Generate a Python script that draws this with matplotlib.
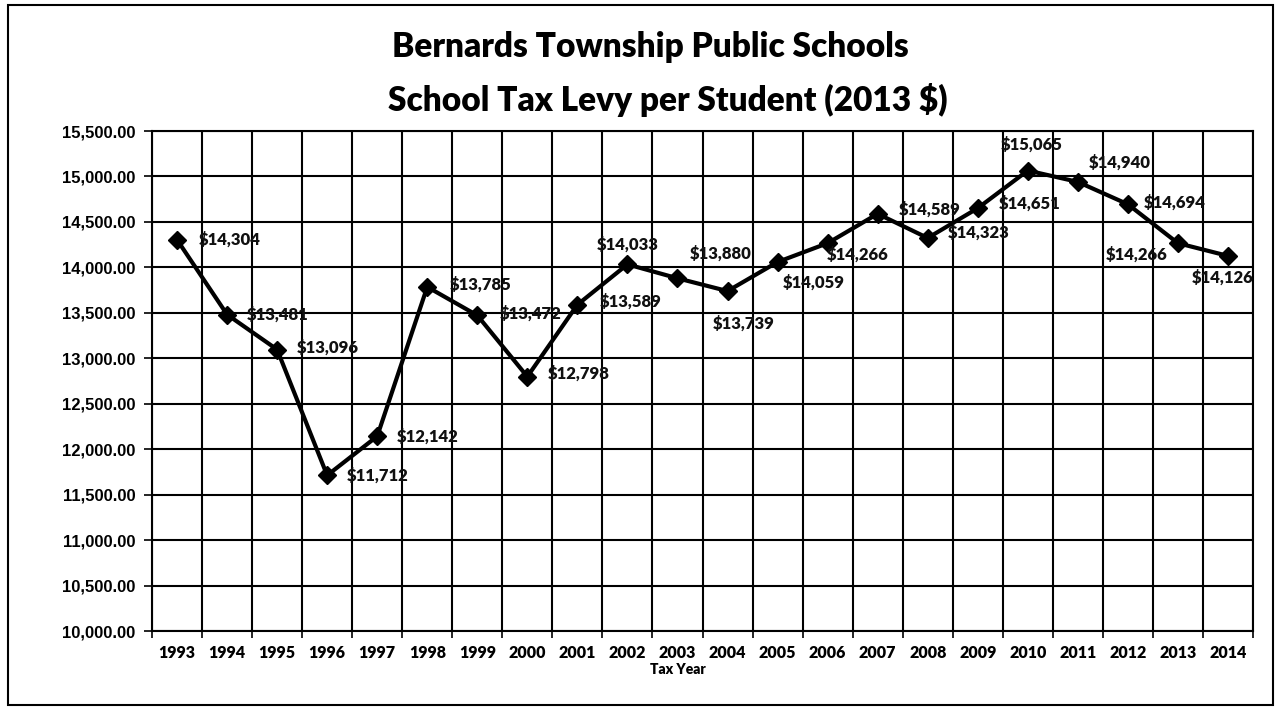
import matplotlib
matplotlib.use("Agg")
import matplotlib.pyplot as plt
from matplotlib.patches import Rectangle

years = ["1993", "1994", "1995", "1996", "1997", "1998", "1999", "2000", "2001", "2002", "2003",
         "2004", "2005", "2006", "2007", "2008", "2009", "2010", "2011", "2012", "2013", "2014"]
levy = [14304, 13481, 13096, 11712, 12142, 13785, 13472, 12798, 13589, 14033, 13880,
        13739, 14059, 14266, 14589, 14323, 14651, 15065, 14940, 14694, 14266, 14126]
y_ticks = [10000, 10500, 11000, 11500, 12000, 12500, 13000, 13500, 14000, 14500, 15000, 15500]
title_1 = "Bernards Township Public Schools"
title_2 = "School Tax Levy per Student (2013 $)"
x_title = "Tax Year"

# label placement (pixels: dx right, dy down, horizontal alignment)
label_pos = [(22, 0, "left"), (20, 0, "left"), (20, -2, "left"), (20, 0, "left"), (20, 0, "left"),
             (22, -2, "left"), (22, -2, "left"), (20, -3, "left"), (22, -3, "left"), (0, -20, "center"),
             (43, -25, "center"), (16, 32, "center"), (36, 21, "center"), (30, 11, "center"),
             (21, -4, "left"), (20, -5, "left"), (21, -5, "left"), (4, -26, "center"),
             (42, -19, "center"), (16, -2, "left"), (-41, 11, "center"), (-5, 22, "center")]

W, H = 1277, 710
fig = plt.figure(figsize=(W / 100, H / 100), dpi=100)
fig.patch.set_facecolor("white")

L, R, T, B = 152, 1253, 131, 631
ax = fig.add_axes([L / W, (H - B) / H, (R - L) / W, (B - T) / H])

xs = list(range(len(years)))
ax.plot(xs, levy, color="black", lw=3, marker="D", markersize=9.5, zorder=5)

ax.set_xlim(-0.5, len(years) - 0.5)
ax.set_ylim(10000, 15500)
ax.set_yticks(y_ticks)
ax.set_yticklabels([f"{v:,.2f}" for v in y_ticks], fontfamily="Liberation Sans",
                   fontweight="bold", fontsize=12)
ax.set_xticks([i - 0.5 for i in range(len(years) + 1)])
ax.set_xticklabels([])
ax.set_xticks(xs, minor=True)
ax.set_xticklabels(years, minor=True, fontfamily="Lato", fontweight="heavy", fontsize=11.5)
ax.tick_params(axis="x", which="minor", length=0, pad=10)
ax.tick_params(axis="x", which="major", length=5, width=1.2, direction="out")
ax.tick_params(axis="y", which="major", length=6, width=1.2, direction="out", pad=6)

ax.grid(True, which="major", color="black", lw=1.5)
ax.set_axisbelow(True)
for s in ax.spines.values():
    s.set_color("black")
    s.set_linewidth(1.5)

for i, (v, (dx, dy, ha)) in enumerate(zip(levy, label_pos)):
    ax.annotate(f"${v:,}", (i, v), xytext=(dx, -dy), textcoords="offset pixels",
                ha=ha, va="center", fontfamily="Lato", fontweight="heavy", fontsize=12,
                color="#111111", zorder=6)

fig.text(650 / W, 1 - 47 / H, title_1, ha="center", va="center", fontfamily="Lato",
         fontweight="heavy", fontsize=24)
fig.text(668 / W, 1 - 100 / H, title_2, ha="center", va="center", fontfamily="Lato",
         fontweight="heavy", fontsize=24)
fig.text(678 / W, 1 - 670 / H, x_title, ha="center", va="center", fontfamily="Lato",
         fontweight="heavy", fontsize=10)

fig.patches.append(Rectangle((8 / W, (H - 705) / H), (1273 - 8) / W, (705 - 5) / H,
                             transform=fig.transFigure, fill=False, edgecolor="black", lw=1.5))

fig.savefig("out.png", dpi=100)
